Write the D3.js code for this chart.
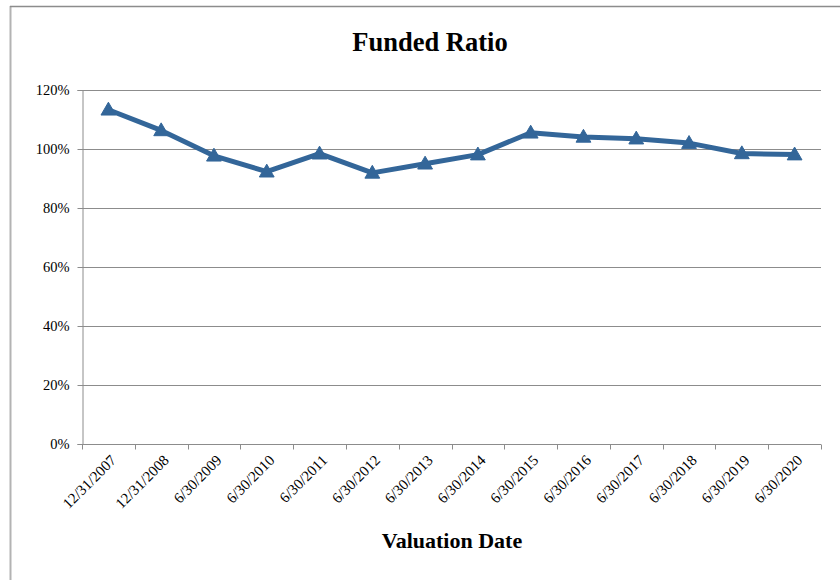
<!DOCTYPE html>
<html>
<head>
<meta charset="utf-8">
<script src="https://cdn.jsdelivr.net/npm/d3@7"></script>
<style>
  html, body { margin: 0; padding: 0; background: #fff; }
  svg { display: block; }
</style>
</head>
<body>
<div id="chart"></div>
<script>
const categories = ["12/31/2007","12/31/2008","6/30/2009","6/30/2010","6/30/2011","6/30/2012","6/30/2013","6/30/2014","6/30/2015","6/30/2016","6/30/2017","6/30/2018","6/30/2019","6/30/2020"];
const fundedRatio = [113.3, 106.3, 97.7, 92.3, 98.4, 91.9, 95.0, 98.1, 105.5, 104.1, 103.5, 102.0, 98.5, 98.1];
const yTicks = [0, 20, 40, 60, 80, 100, 120];
const title = "Funded Ratio";
const xTitle = "Valuation Date";

const W = 840, H = 580;
const FONT = '"Liberation Serif", "Times New Roman", serif';
const svg = d3.select("#chart").append("svg").attr("width", W).attr("height", H);

// outer frame
svg.append("line").attr("x1", 10.5).attr("x2", 10.5).attr("y1", 6).attr("y2", H).attr("stroke", "#b3b3b3").attr("stroke-width", 2);
svg.append("line").attr("x1", 10).attr("x2", W).attr("y1", 6.5).attr("y2", 6.5).attr("stroke", "#8c8c8c").attr("stroke-width", 1.5);

const pLeft = 82, pRight = 821, pTop = 90, pBottom = 444;
const x = d3.scaleBand().domain(categories).range([pLeft, pRight]);
const y = d3.scaleLinear().domain([0, 120]).range([pBottom, pTop]);

// gridlines
svg.append("g").selectAll("line").data(yTicks.filter(d => d > 0)).join("line")
  .attr("x1", pLeft).attr("x2", pRight)
  .attr("y1", d => Math.round(y(d)) + 0.5).attr("y2", d => Math.round(y(d)) + 0.5)
  .attr("stroke", "#8c8c8c").attr("stroke-width", 1);

// y axis
const yAxis = svg.append("g").attr("transform", `translate(${pLeft + 0.5},0)`)
  .call(d3.axisLeft(y).tickValues(yTicks).tickFormat(d => d + "%").tickSize(5).tickPadding(8));
yAxis.select(".domain").attr("stroke", "#8c8c8c");
yAxis.selectAll(".tick line").attr("stroke", "#8c8c8c");
yAxis.selectAll("text").style("font-family", FONT).style("font-size", "14.5px").attr("fill", "#000");

// x axis
const xAxis = svg.append("g").attr("transform", `translate(0,${pBottom + 0.5})`)
  .call(d3.axisBottom(x).tickSize(0).tickFormat(""));
xAxis.select(".domain").attr("stroke", "#8c8c8c").attr("d", `M${pLeft},0H${pRight}`);
const bounds = categories.map((c, i) => pLeft + i * x.step()).concat([pRight]);
xAxis.append("g").selectAll("line").data(bounds).join("line")
  .attr("x1", d => Math.round(d) + 0.5).attr("x2", d => Math.round(d) + 0.5)
  .attr("y1", 0).attr("y2", 5).attr("stroke", "#8c8c8c");
xAxis.append("g").selectAll("text").data(categories).join("text")
  .attr("transform", d => `translate(${x(d) + x.bandwidth() / 2 + 5},13) rotate(-45)`)
  .attr("text-anchor", "end").attr("dy", "0.35em")
  .style("font-family", FONT).style("font-size", "15px").attr("fill", "#000")
  .text(d => d);

// line
const color = "#336699";
const line = d3.line().x((d, i) => x(categories[i]) + x.bandwidth() / 2).y(d => y(d));
svg.append("path").datum(fundedRatio).attr("d", line)
  .attr("fill", "none").attr("stroke", color).attr("stroke-width", 5).attr("stroke-linejoin", "round");

const tri = d3.symbol().type(d3.symbolTriangle).size(95);
svg.append("g").selectAll("path").data(fundedRatio).join("path")
  .attr("transform", (d, i) => `translate(${x(categories[i]) + x.bandwidth() / 2},${y(d) + 1})`)
  .attr("d", tri).attr("fill", color).attr("stroke", color).attr("stroke-width", 1);

// titles
svg.append("text").attr("x", 430).attr("y", 51).attr("text-anchor", "middle")
  .style("font-family", FONT).style("font-weight", "bold").style("font-size", "26.5px").text(title);
svg.append("text").attr("x", 452).attr("y", 548).attr("text-anchor", "middle")
  .style("font-family", FONT).style("font-weight", "bold").style("font-size", "22px").text(xTitle);
</script>
</body>
</html>
